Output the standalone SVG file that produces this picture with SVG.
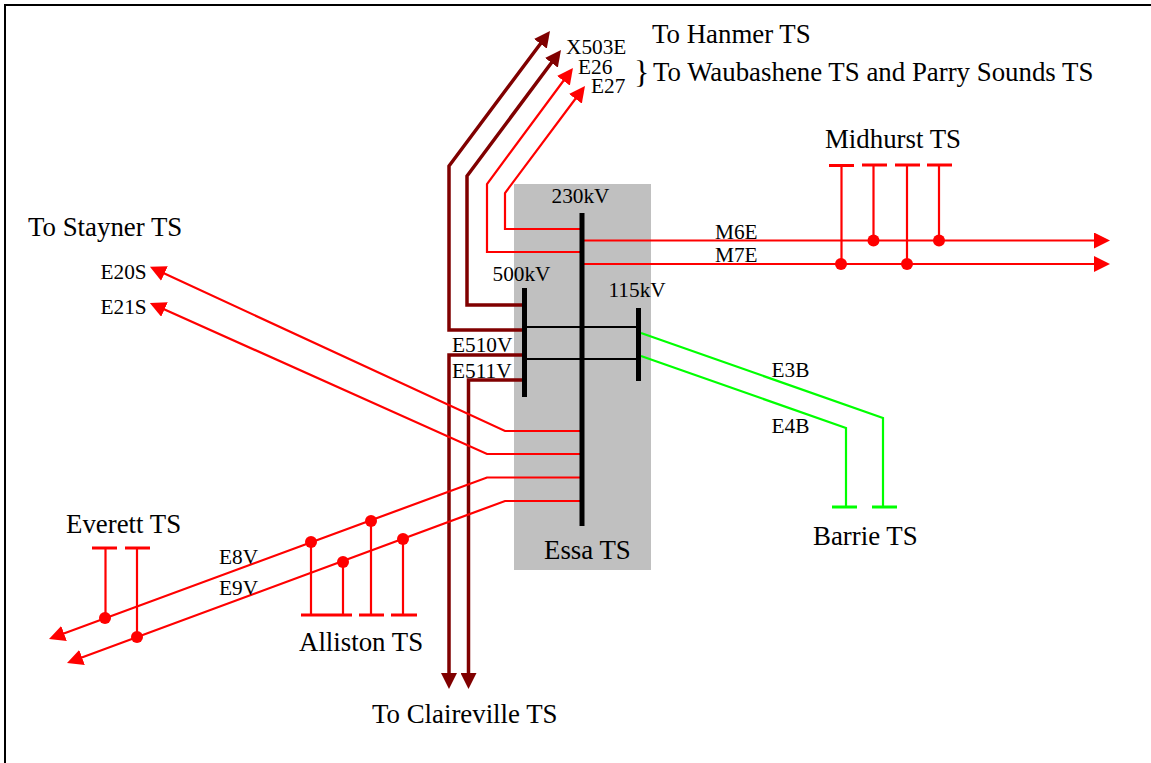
<svg xmlns="http://www.w3.org/2000/svg" width="1151" height="763" viewBox="0 0 1151 763">
<style>
text{font-family:"Liberation Serif","Times New Roman",serif;fill:#000}
.lg{font-size:26.850px}
.sm{font-size:21.300px}
.r,.d,.g,.k{fill:none;stroke-linejoin:miter}
.r{stroke:#f00;stroke-width:2.200}
.d{stroke:#800000;stroke-width:3.500}
.g{stroke:#0f0;stroke-width:2.200}
.k{stroke:#000;stroke-width:2}
.ra{marker-end:url(#hr)}
.da{marker-end:url(#hd)}
.cr{stroke:#f00;stroke-width:3;fill:none}
.cg{stroke:#0f0;stroke-width:3;fill:none}
.dot{fill:#f00}
.bus{fill:#000}
</style>
<defs>
<marker id="hr" markerUnits="userSpaceOnUse" markerWidth="16" markerHeight="16" refX="6" refY="8" orient="auto"><path d="M0,0L16,8L0,16z" fill="#f00"/></marker>
<marker id="hd" markerUnits="userSpaceOnUse" markerWidth="16" markerHeight="16" refX="6" refY="8" orient="auto"><path d="M0,0L16,8L0,16z" fill="#800000"/></marker>
</defs>
<rect width="1151" height="763" fill="#fff"/>
<path d="M5,763V5H1151" fill="none" stroke="#000" stroke-width="2"/>
<g id="essa-ts-bg"><rect x="514" y="184" width="137" height="386" fill="#c0c0c0"/></g>
<g id="connectors">
<path class="d da" d="M524,330H449V166L544,39"/>
<path class="d da" d="M524,305H467V176L555,58"/>
<path class="r ra" d="M581,252H487V184L567,76"/>
<path class="r ra" d="M581,229H505V193L579,94"/>
<path class="r ra" d="M582,240.500H1100"/>
<path class="r ra" d="M582,264H1100"/>
<path class="d da" d="M524,355H449V679"/>
<path class="d da" d="M524,380H468.500V679"/>
<path class="g" d="M641,333L883,418V507"/>
<path class="g" d="M641,356L846,428V507"/>
<path class="r ra" d="M581,431H505L159,271"/>
<path class="r ra" d="M581,454H487L159,307"/>
<path class="r ra" d="M581,477.500H487L58.400,635.500"/>
<path class="r ra" d="M581,501H505L76.400,659.500"/>
<path class="k" d="M524,327H638M524,359H638"/>
</g>
<g id="essa-ts">
<rect class="bus" x="579.500" y="213" width="5" height="313"/>
<rect class="bus" x="522" y="288" width="5" height="109"/>
<rect class="bus" x="636" y="308" width="5" height="73"/>
<text class="sm" x="551.500" y="203">230kV</text>
<text class="sm" x="492.500" y="281">500kV</text>
<text class="sm" x="608.500" y="297">115kV</text>
<text class="lg" x="544" y="559">Essa TS</text>
</g>
<g id="midhurst-ts">
<path class="r" d="M841.500,165V264M873.500,165V240M907,165V264M939,165V240"/>
<path class="cr" d="M829,165.500H854M862,165H887M895,165H920M927,165H952"/>
<circle class="dot" cx="841" cy="264" r="6"/>
<circle class="dot" cx="873.500" cy="240.500" r="6"/>
<circle class="dot" cx="907" cy="264" r="6"/>
<circle class="dot" cx="939" cy="240.500" r="6"/>
<text class="lg" x="825" y="148">Midhurst TS</text>
</g>
<g id="barrie-ts">
<path class="cg" d="M832,507H857M872,507H897"/>
<text class="lg" x="813" y="545">Barrie TS</text>
</g>
<g id="everett-ts">
<path class="r" d="M105.500,548V618M137,548V637"/>
<path class="cr" d="M92,548H117M125,548H150"/>
<circle class="dot" cx="105" cy="618" r="6"/>
<circle class="dot" cx="137" cy="637" r="6"/>
<text class="lg" x="66" y="533">Everett TS</text>
</g>
<g id="alliston-ts">
<path class="r" d="M311,542V615M343,562V615M371,521V615M403,539V615"/>
<path class="cr" d="M301,615H352M359,615H384M391,615H417"/>
<circle class="dot" cx="311" cy="542" r="6"/>
<circle class="dot" cx="343" cy="562" r="6"/>
<circle class="dot" cx="371" cy="521" r="6"/>
<circle class="dot" cx="403" cy="539" r="6"/>
<text class="lg" x="299" y="651">Alliston TS</text>
</g>
<g id="labels">
<text class="lg" x="652" y="43">To Hanmer TS</text>
<text x="634" y="83" font-size="32">}</text>
<text class="lg" x="653" y="81">To Waubashene TS and Parry Sounds TS</text>
<text class="lg" x="28" y="236">To Stayner TS</text>
<text class="lg" x="372" y="723">To Claireville TS</text>
<text class="sm" x="566" y="54">X503E</text>
<text class="sm" x="578" y="74">E26</text>
<text class="sm" x="591" y="93">E27</text>
<text class="sm" x="715" y="239">M6E</text>
<text class="sm" x="715" y="262">M7E</text>
<text class="sm" x="100.500" y="279">E20S</text>
<text class="sm" x="100.500" y="314">E21S</text>
<text class="sm" x="452" y="352">E510V</text>
<text class="sm" x="452" y="378">E511V</text>
<text class="sm" x="771.500" y="377">E3B</text>
<text class="sm" x="771.500" y="433">E4B</text>
<text class="sm" x="219" y="564">E8V</text>
<text class="sm" x="219" y="595">E9V</text>
</g>
</svg>
